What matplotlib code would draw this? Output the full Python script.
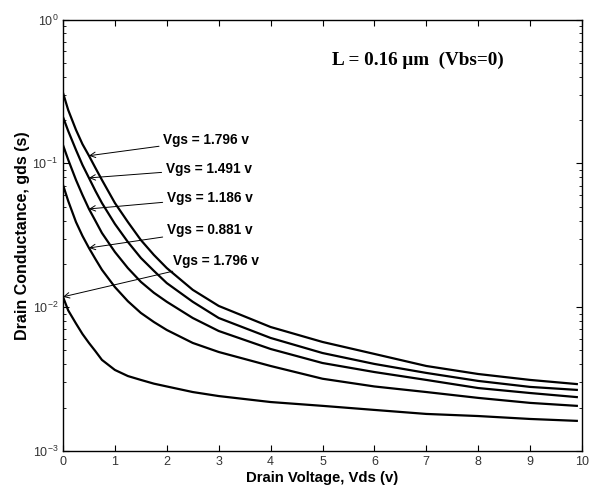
import matplotlib
matplotlib.use('Agg')
import matplotlib.pyplot as plt

plt.rcParams['font.family'] = ['Liberation Sans', 'DejaVu Sans']
plt.rcParams['mathtext.fontset'] = 'custom'
plt.rcParams['mathtext.rm'] = 'Liberation Sans'

# Vds 網格 (v)
vds = [0, 0.1, 0.25, 0.375, 0.5, 0.625, 0.75, 1, 1.25, 1.5, 1.75, 2, 2.5, 3,
       4, 5, 6, 7, 8, 9, 9.9]

# gds (s)
gds_1796 = [0.309, 0.235, 0.171, 0.136, 0.113, 0.0929, 0.0767, 0.0530, 0.0391, 0.0293,
            0.0231, 0.0187, 0.0132, 0.0102, 0.00728, 0.00573, 0.00473, 0.00390,
            0.00343, 0.00312, 0.00292]
gds_1491 = [0.210, 0.168, 0.124, 0.0975, 0.0792, 0.0643, 0.0530, 0.0379, 0.0284, 0.0220,
            0.0179, 0.0147, 0.0109, 0.00841, 0.00611, 0.00480, 0.00403, 0.00349,
            0.00307, 0.00279, 0.00266]
gds_1186 = [0.134, 0.106, 0.0767, 0.0603, 0.0482, 0.0398, 0.0328, 0.0242, 0.0187, 0.0150,
            0.0126, 0.0109, 0.00841, 0.00683, 0.00512, 0.00409, 0.00354, 0.00312,
            0.00274, 0.00253, 0.00237]
gds_0881 = [0.0708, 0.0548, 0.0391, 0.0313, 0.0258, 0.0216, 0.0182, 0.0138, 0.0110, 0.00912,
            0.00789, 0.00694, 0.00564, 0.00488, 0.00390, 0.00318, 0.00281, 0.00257,
            0.00234, 0.00216, 0.00206]
gds_low = [0.0118, 0.00950, 0.00770, 0.00651, 0.00564, 0.00494, 0.00430, 0.00366, 0.00332,
           0.00312, 0.00294, 0.00281, 0.00257, 0.00241, 0.00219, 0.00206, 0.00193,
           0.00181, 0.00175, 0.00167, 0.00162]

curves = [gds_1796, gds_1491, gds_1186, gds_0881, gds_low]
labels = ['Vgs = 1.796 v', 'Vgs = 1.491 v', 'Vgs = 1.186 v', 'Vgs = 0.881 v', 'Vgs = 1.796 v']
tip_idx = [4, 4, 4, 4, 0]
label_pos = [(0.193, 0.721), (0.198, 0.654), (0.200, 0.586), (0.200, 0.512), (0.212, 0.440)]

fig = plt.figure(figsize=(6.0, 4.93), dpi=100)
ax = fig.add_axes([0.105, 0.0852, 0.865, 0.8752])

for g in curves:
    ax.plot(vds, g, color='black', lw=1.6)

ax.set_yscale('log')
ax.set_xlim(0, 10)
ax.set_ylim(1e-3, 1)
ax.set_xticks(range(0, 11))

ax.tick_params(which='both', direction='in', top=True, right=True,
               labelsize=9, labelcolor='#333333')
ax.tick_params(which='major', length=4)
ax.tick_params(which='minor', length=2.5)
for s in ax.spines.values():
    s.set_linewidth(1.0)

ax.set_xlabel('Drain Voltage, Vds (v)', fontsize=10.7, fontweight='bold', labelpad=2)
ax.set_ylabel('Drain Conductance, gds (s)', fontsize=11.5, fontweight='bold', labelpad=2)

for g, lab, i, pos in zip(curves, labels, tip_idx, label_pos):
    ax.annotate(lab, xy=(vds[i], g[i]), xycoords='data',
                xytext=pos, textcoords='axes fraction',
                fontsize=9.8, fontweight='bold', va='center', ha='left',
                arrowprops=dict(arrowstyle='->', color='black', lw=0.7,
                                shrinkA=1, shrinkB=0))

ax.text(0.518, 0.906, 'L = 0.16 \u03bcm  (Vbs=0)', transform=ax.transAxes,
        fontsize=13.8, fontweight='bold', family=['Liberation Serif', 'DejaVu Serif'],
        va='center', ha='left')

fig.savefig('out.png', dpi=100)
